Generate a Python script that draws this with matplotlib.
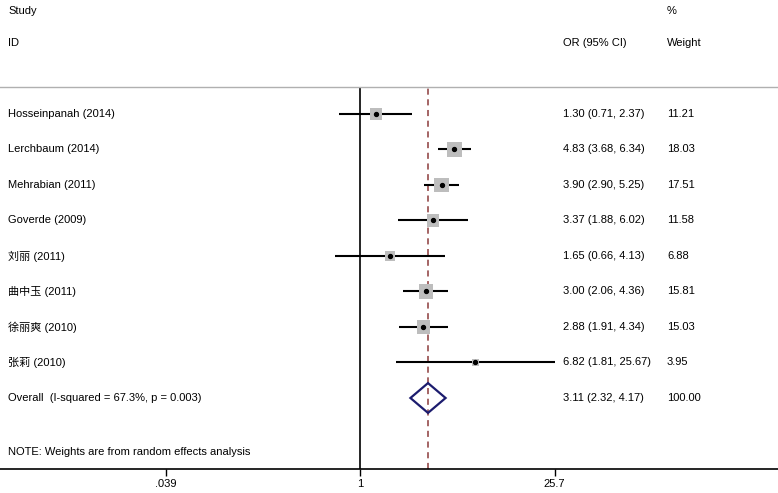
import matplotlib.pyplot as plt
from matplotlib.patches import Polygon
import matplotlib.transforms as mtransforms

plt.rcParams['font.family'] = ['Liberation Sans', 'Noto Sans CJK SC', 'DejaVu Sans']
plt.rcParams['font.size'] = 8

# Study data
studies = ["Hosseinpanah (2014)", "Lerchbaum (2014)", "Mehrabian (2011)", "Goverde (2009)",
           "刘丽 (2011)", "曲中玉 (2011)", "徐丽爽 (2010)", "张莉 (2010)"]
or_est = [1.30, 4.83, 3.90, 3.37, 1.65, 3.00, 2.88, 6.82]
ci_low = [0.71, 3.68, 2.90, 1.88, 0.66, 2.06, 1.91, 1.81]
ci_high = [2.37, 6.34, 5.25, 6.02, 4.13, 4.36, 4.34, 25.67]
weights = [11.21, 18.03, 17.51, 11.58, 6.88, 15.81, 15.03, 3.95]

overall_label = "Overall  (I-squared = 67.3%, p = 0.003)"
overall_est, overall_low, overall_high = 3.11, 2.32, 4.17

xticks = [0.039, 1, 25.7]
xticklabels = [".039", "1", "25.7"]

fig = plt.figure(figsize=(7.78, 4.93), dpi=100)
ax = fig.add_axes([0, 24 / 493, 1, (469 - 87) / 493])
ax.set_xscale('log')
ax.set_xlim(10 ** (-360 / 138), 10 ** (418 / 138))
ax.set_ylim(-10.0, 0.76)

# spines: gray top line, black axis at bottom
for s in ['left', 'right']:
    ax.spines[s].set_visible(False)
ax.spines['top'].set_color('#b0b0b0')
ax.spines['top'].set_linewidth(1.0)
ax.spines['bottom'].set_linewidth(1.2)
ax.set_yticks([])
ax.set_xticks(xticks)
ax.set_xticklabels(xticklabels, fontsize=8)
ax.xaxis.set_minor_locator(plt.NullLocator())
ax.tick_params(axis='x', direction='out', length=5, width=1, pad=2)

# reference lines
ax.axvline(1, color='black', lw=1.2, zorder=1)
ax.axvline(overall_est, color='#8b3a3a', lw=1.1, ls=(0, (4, 3)), zorder=1)

rows = [-i for i in range(len(studies))]
ax.hlines(rows, ci_low, ci_high, color='black', lw=1.5, zorder=2)
ax.scatter(or_est, rows, marker='s', s=[6.5 * w for w in weights],
           color='#bdbdbd', edgecolors='none', zorder=3)
ax.scatter(or_est, rows, marker='o', s=8, color='black', zorder=4)

y_ov = -len(studies)
h = 0.42
diamond = Polygon([(overall_low, y_ov), (overall_est, y_ov + h),
                   (overall_high, y_ov), (overall_est, y_ov - h)],
                  closed=True, fill=False, edgecolor='#1c1c6e', lw=1.6, zorder=4)
ax.add_patch(diamond)

# text columns
trans = mtransforms.blended_transform_factory(fig.transFigure, ax.transData)
x_study, x_or, x_wt = 8 / 778, 563 / 778, 667 / 778
for y, name, e, lo, hi, w in zip(rows, studies, or_est, ci_low, ci_high, weights):
    ax.text(x_study, y, name, transform=trans, va='center', ha='left', clip_on=False)
    ax.text(x_or, y, f"{e:.2f} ({lo:.2f}, {hi:.2f})", transform=trans,
            va='center', ha='left', clip_on=False)
    ax.text(x_wt, y, f"{w:.2f}", transform=trans, va='center', ha='left', clip_on=False)

ax.text(x_study, y_ov, overall_label, transform=trans, va='center', ha='left', clip_on=False)
ax.text(x_or, y_ov, f"{overall_est:.2f} ({overall_low:.2f}, {overall_high:.2f})",
        transform=trans, va='center', ha='left', clip_on=False)
ax.text(x_wt, y_ov, "100.00", transform=trans, va='center', ha='left', clip_on=False)

ax.text(x_study, -(452 - 114) / 35.5, "NOTE: Weights are from random effects analysis",
        transform=trans, va='center', ha='left', clip_on=False)

# headers
y_h1 = -(11 - 114) / 35.5
y_h2 = -(43 - 114) / 35.5
ax.text(x_study, y_h1, "Study", transform=trans, va='center', ha='left', clip_on=False)
ax.text(x_study, y_h2, "ID", transform=trans, va='center', ha='left', clip_on=False)
ax.text(x_or, y_h2, "OR (95% CI)", transform=trans, va='center', ha='left', clip_on=False)
ax.text(x_wt, y_h1, "%", transform=trans, va='center', ha='left', clip_on=False)
ax.text(x_wt, y_h2, "Weight", transform=trans, va='center', ha='left', clip_on=False)

fig.savefig("out.png", dpi=100)
